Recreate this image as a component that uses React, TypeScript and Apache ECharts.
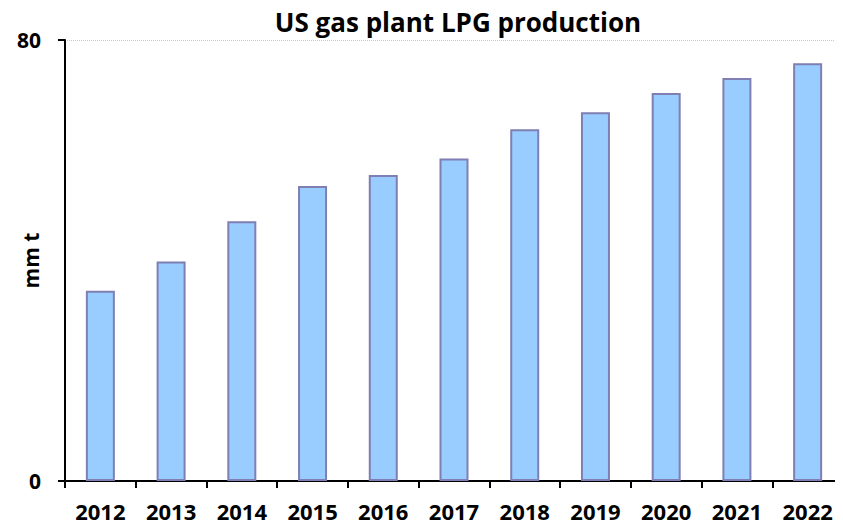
import React, { useEffect, useRef } from "react";
import * as echarts from "echarts";

const years = ["2012", "2013", "2014", "2015", "2016", "2017", "2018", "2019", "2020", "2021", "2022"];
const production = [34.5, 39.8, 47.1, 53.5, 55.5, 58.5, 63.8, 66.9, 70.4, 73.1, 75.8];
const yMin = 0;
const yMax = 80;

const FONT = "'Open Sans', 'Liberation Sans', sans-serif";

export default function App() {
  const ref = useRef<HTMLDivElement>(null);
  useEffect(() => {
    if (!ref.current) return;
    const chart = echarts.init(ref.current, undefined, { renderer: "svg" });
    chart.setOption({
      animation: false,
      backgroundColor: "#ffffff",
      title: {
        text: "US gas plant LPG production",
        left: 450,
        textAlign: "center",
        top: 1,
        padding: 0,
        textStyle: { fontFamily: FONT, fontWeight: "bold", fontSize: 26, color: "#000" },
      },
      grid: { left: 57, right: 8, top: 32, bottom: 53, containLabel: false, outerBoundsMode: "none" },
      xAxis: {
        type: "category",
        data: years,
        axisLine: { lineStyle: { color: "#000", width: 2 } },
        axisTick: { show: true, alignWithLabel: false, length: 7, lineStyle: { color: "#000", width: 2 } },
        axisLabel: { fontFamily: FONT, fontWeight: "bold", fontSize: 22, color: "#000", margin: 19 },
      },
      yAxis: {
        type: "value",
        min: yMin,
        max: yMax,
        interval: 80,
        name: "mm t",
        nameLocation: "middle",
        nameGap: 24,
        nameRotate: 90,
        nameMoveOverlap: false,
        nameTextStyle: { fontFamily: FONT, fontWeight: "bold", fontSize: 21, color: "#000" },
        axisLine: { show: true, lineStyle: { color: "#000", width: 2 } },
        axisTick: { show: true, length: 7, lineStyle: { color: "#000", width: 2 } },
        axisLabel: { fontFamily: FONT, fontWeight: "bold", fontSize: 21, color: "#000", margin: 24 },
        splitLine: { show: true, lineStyle: { color: "#c8c8c8", type: "dotted", width: 1 } },
      },
      series: [
        {
          type: "bar",
          data: production,
          barWidth: "41%",
          itemStyle: { color: "#99ccff", borderColor: "#7f7fb3", borderWidth: 2 },
        },
      ],
    });
    return () => chart.dispose();
  }, []);
  return <div ref={ref} style={{ width: 843, height: 526 }} />;
}
